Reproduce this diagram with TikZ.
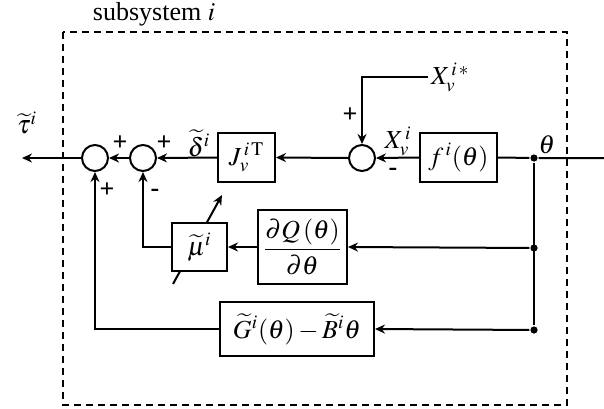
\documentclass[tikz,border=0pt]{standalone}
\usepackage{mathptmx}
\usepackage{fontspec}
\setmainfont{Liberation Serif}
\usetikzlibrary{
  arrows.meta, % For arrow tips
  calc
}

\begin{document}
\begin{tikzpicture}[
      x=0.5pt, y=-0.5pt, % pixel grid of the reference
      line width=1pt, % Default line thickness
      >={Stealth[length=5pt,width=4.5pt]}, % Default arrow tip
      font=\fontsize{13}{15}\selectfont,
      block/.style={draw, fill=white, rectangle, inner sep=1pt},
      sumnode/.style={draw, circle, minimum size=13pt, inner sep=0pt},
      sig/.style={->}, % Style for signal arrows
      frame/.style={line width=1pt, dash pattern=on 3.5pt off 2.5pt},
      branch/.style={fill, circle, minimum size=3.6pt, inner sep=0pt},
      lbl/.style={inner sep=1pt},
      sign/.style={inner sep=0pt, font=\fontsize{13}{15}\selectfont\bfseries},
    ]
    \useasboundingbox (0,0) rectangle (604,408);

    % Rahmen
    \draw[frame] (63,32) rectangle (567,405);
    \node[lbl] (title) at (154,14) {subsystem $i$};

    % Verstellbare Verstärkung (hinter dem Block)
    \coordinate (gainA) at (173,284);
    \coordinate (gainB) at (222,195);
    \draw[sig] (gainA) -- (gainB);

    % Obere Reihe
    \node[sumnode] (sumA) at (95,158) {};
    \node[sumnode] (sumB) at (143,158) {};
    \node[block, minimum width=28.5pt, minimum height=24.5pt] (J) at (246.5,157.5) {$J_v^{\,i\,\mathrm{T}}$};
    \node[sumnode] (sumC) at (362,158) {};
    \node[block, minimum width=38.5pt, minimum height=24.5pt] (f) at (458.5,157.5) {$f^{\,i}(\theta)$};

    % Untere Blöcke
    \node[block, minimum width=27.5pt, minimum height=24pt] (mu) at (199.5,247) {$\widetilde{\mu}^i$};
    \node[block, minimum width=44.5pt, minimum height=37pt] (dQ) at (302.5,247) {$\displaystyle\frac{\partial Q\,(\theta)}{\partial\theta}$};
    \node[block, minimum width=77pt, minimum height=27pt] (G) at (297,329) {$\widetilde{G}^i(\theta)-\widetilde{B}^i\theta$};

    % Koordinaten von Punkte
    \coordinate (in) at (604,158);
    \coordinate (out) at (22,158);
    \coordinate (xref) at (428,77);
    \node[branch] (dotA) at (534,158) {};
    \node[branch] (dotB) at (534,248) {};
    \node[branch] (dotC) at (534,330) {};

    % Signale
    \draw (in) -- (dotA) -- (f.east);
    \draw[sig] (f.west) -- (sumC.east);
    \draw[sig] (xref) -| (sumC.north);
    \draw[sig] (sumC.west) -- (J.east);
    \draw[sig] (J.west) -- (sumB.east);
    \draw[sig] (sumB.west) -- (sumA.east);
    \draw[sig] (sumA.west) -- (out);
    \draw (dotA) -- (dotC);
    \draw[sig] (dotB) -- (dQ.east);
    \draw[sig] (dotC) -- (G.east);
    \draw[sig] (dQ.west) -- (mu.east);
    \draw[sig] (mu.west) -| (sumB.south);
    \draw[sig] (G.west) -| (sumA.south);

    % Beschriftungen
    \node[lbl] (tau) at (27,123) {$\widetilde{\tau}^i$};
    \node[lbl] (delta) at (199,143) {$\widetilde{\delta}^i$};
    \node[lbl, anchor=west] (xrefl) at (xref) {$X_v^{\,i\,*}$};
    \node[lbl] (xv) at (398,141) {$X_v^{\,i}$};
    \node[lbl] (theta) at (547,145) {$\theta$};
    \node[sign] (pA) at (120,143) {+};
    \node[sign] (pB) at (164,143) {+};
    \node[sign] (pC) at (107,190) {+};
    \node[sign] (mB) at (155,193) {-};
    \node[sign] (pD) at (350,115) {+};
    \node[sign] (mC) at (393,172) {-};
  \end{tikzpicture}
\end{document}
